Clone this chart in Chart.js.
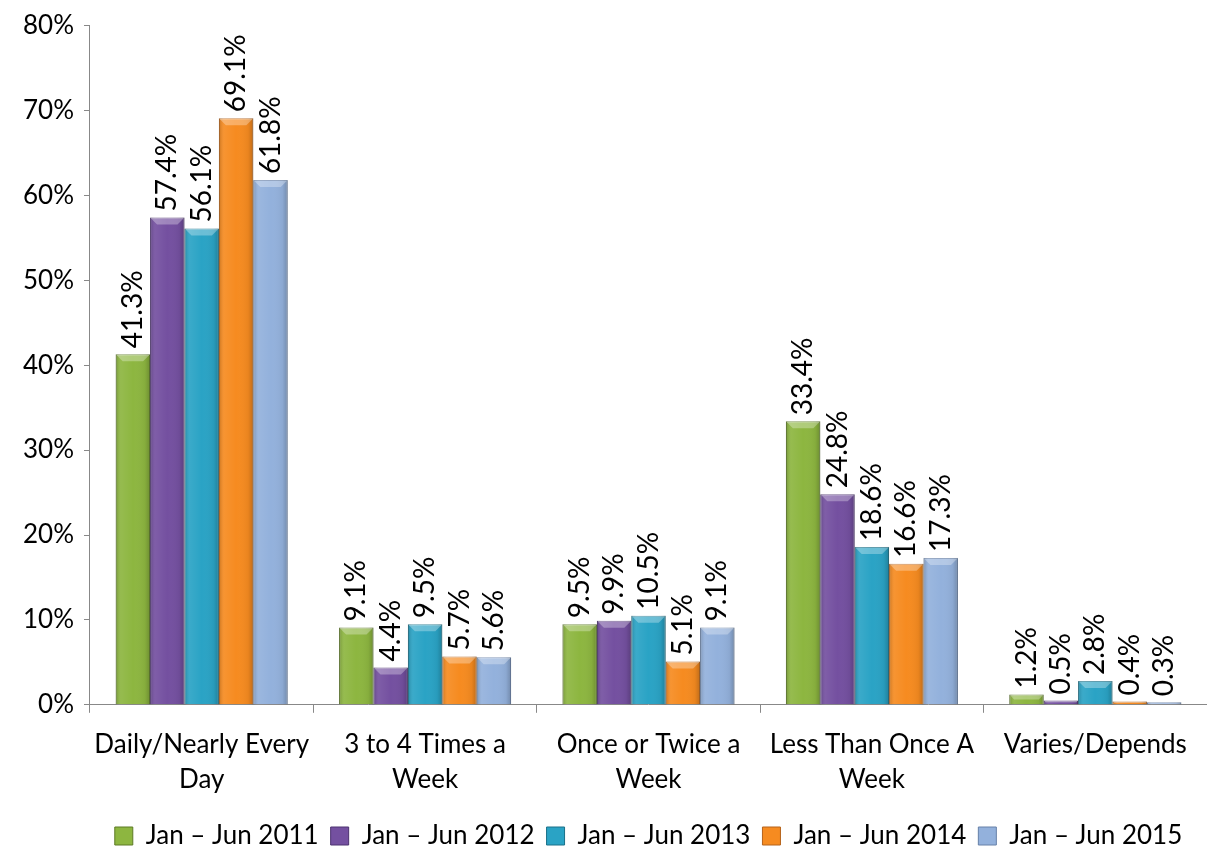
<!DOCTYPE html>
<html>
<head>
<meta charset="utf-8">
<script src="https://cdn.jsdelivr.net/npm/chart.js@4"></script>
<style>
  html, body { margin: 0; padding: 0; background: #fff; }
  #wrap { width: 1207px; height: 850px; position: relative; }
</style>
</head>
<body>
<div id="wrap"><canvas id="chart"></canvas></div>
<script>
// categories and series (percent)
const categories = [
  ['Daily/Nearly Every', 'Day'],
  ['3 to 4 Times a', 'Week'],
  ['Once or Twice a', 'Week'],
  ['Less Than Once A', 'Week'],
  'Varies/Depends'
];
const seriesNames = ['Jan \u2013 Jun 2011', 'Jan \u2013 Jun 2012', 'Jan \u2013 Jun 2013', 'Jan \u2013 Jun 2014', 'Jan \u2013 Jun 2015'];
const jun2011 = [41.3, 9.1, 9.5, 33.4, 1.2];
const jun2012 = [57.4, 4.4, 9.9, 24.8, 0.5];
const jun2013 = [56.1, 9.5, 10.5, 18.6, 2.8];
const jun2014 = [69.1, 5.7, 5.1, 16.6, 0.4];
const jun2015 = [61.8, 5.6, 9.1, 17.3, 0.3];
const yTicks = [0, 10, 20, 30, 40, 50, 60, 70, 80];

const colors = ['#8db640', '#7450a0', '#2aa3c5', '#f68b20', '#93b1dc'];
const borders = ['#5d7a25', '#4c3270', '#1a7189', '#b5621a', '#6680a8'];

const FONT = 'Lato, "Open Sans", sans-serif';

// rotated value labels above each bar
const valueLabels = {
  id: 'valueLabels',
  afterDatasetsDraw(chart) {
    const ctx = chart.ctx;
    ctx.save();
    ctx.font = '28px ' + FONT;
    ctx.fillStyle = '#000';
    ctx.textAlign = 'left';
    ctx.textBaseline = 'middle';
    chart.data.datasets.forEach((ds, i) => {
      chart.getDatasetMeta(i).data.forEach((bar, j) => {
        ctx.save();
        ctx.translate(bar.x, bar.y - 6);
        ctx.rotate(-Math.PI / 2);
        ctx.fillText(ds.data[j].toFixed(1) + '%', 0, 0);
        ctx.restore();
      });
    });
    ctx.restore();
  }
};

// soft shading so the bars look a bit rounded like the original
const barShade = {
  id: 'barShade',
  afterDatasetsDraw(chart) {
    const ctx = chart.ctx;
    ctx.save();
    chart.data.datasets.forEach((ds, i) => {
      chart.getDatasetMeta(i).data.forEach(bar => {
        const w = bar.width, left = bar.x - w / 2, h = bar.base - bar.y;
        if (h <= 0) return;
        const g = ctx.createLinearGradient(left, 0, left + w, 0);
        g.addColorStop(0, 'rgba(0,0,0,0.18)');
        g.addColorStop(0.15, 'rgba(255,255,255,0.08)');
        g.addColorStop(0.5, 'rgba(255,255,255,0)');
        g.addColorStop(0.85, 'rgba(0,0,0,0.05)');
        g.addColorStop(1, 'rgba(0,0,0,0.22)');
        ctx.fillStyle = g;
        ctx.fillRect(left, bar.y, w, h);
        // bevel on top
        const bev = Math.min(7, h / 2);
        ctx.fillStyle = 'rgba(255,255,255,0.3)';
        ctx.beginPath();
        ctx.moveTo(left, bar.y);
        ctx.lineTo(left + w, bar.y);
        ctx.lineTo(left + w - bev, bar.y + bev);
        ctx.lineTo(left + bev, bar.y + bev);
        ctx.closePath();
        ctx.fill();
      });
    });
    ctx.restore();
  }
};

// center the legend under the plot area instead of the whole canvas
const legendShift = {
  id: 'legendShift',
  afterLayout(chart) {
    const lg = chart.legend;
    if (!lg) return;
    const dx = (chart.chartArea.left + chart.chartArea.right) / 2 - (lg.left + lg.right) / 2;
    lg.left += dx;
    lg.right += dx;
  }
};

const seriesData = [jun2011, jun2012, jun2013, jun2014, jun2015];

new Chart(document.getElementById('chart'), {
  type: 'bar',
  data: {
    labels: categories,
    datasets: seriesData.map((d, i) => ({
      label: seriesNames[i],
      data: d,
      backgroundColor: colors[i],
      borderColor: borders[i],
      borderWidth: 1,
      categoryPercentage: 0.77,
      barPercentage: 1.0
    }))
  },
  options: {
    responsive: true,
    maintainAspectRatio: false,
    animation: false,
    layout: { padding: { top: 0, right: 0, left: 13, bottom: -9 } },
    plugins: {
      legend: {
        position: 'bottom',
        labels: {
          color: '#000',
          font: { family: FONT, size: 26 },
          boxWidth: 18,
          boxHeight: 18,
          padding: 12
        }
      },
      tooltip: { enabled: false }
    },
    scales: {
      x: {
        grid: { display: true, drawOnChartArea: false, offset: true, tickLength: 8, color: '#888' },
        border: { color: '#888' },
        ticks: { color: '#000', font: { family: FONT, size: 26, lineHeight: 1.35 }, maxRotation: 0, autoSkip: false, padding: 14 }
      },
      y: {
        min: 0,
        max: 80,
        afterBuildTicks(axis) { axis.ticks = yTicks.map(v => ({ value: v })); },
        grid: { display: true, drawOnChartArea: false, tickLength: 6, color: '#888' },
        border: { color: '#888' },
        ticks: { color: '#000', font: { family: FONT, size: 26 }, padding: 10, callback: v => v + '%' }
      }
    }
  },
  plugins: [barShade, valueLabels, legendShift]
});
</script>
</body>
</html>
